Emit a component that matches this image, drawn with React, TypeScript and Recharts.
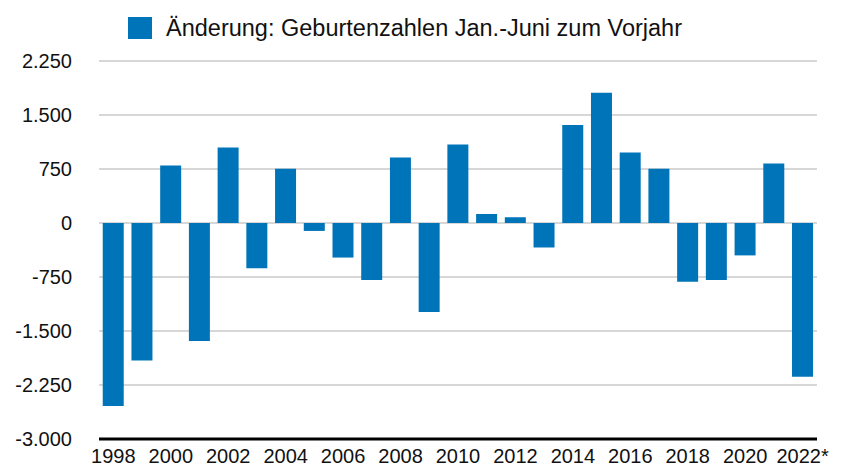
import { BarChart, Bar, CartesianGrid, XAxis, YAxis, Legend } from "recharts";

const years = [
  "1998", "1999", "2000", "2001", "2002", "2003", "2004", "2005", "2006",
  "2007", "2008", "2009", "2010", "2011", "2012", "2013", "2014", "2015",
  "2016", "2017", "2018", "2019", "2020", "2021", "2022*",
];

const changes = [
  -2540, -1910, 800, -1640, 1050, -630, 755, -110, -480, -790, 910, -1235,
  1090, 125, 80, -340, 1360, 1810, 980, 755, -815, -790, -450, 825, -2135,
];

const yTicks = [-3000, -2250, -1500, -750, 0, 750, 1500, 2250];

const seriesName = "Änderung: Geburtenzahlen Jan.-Juni zum Vorjahr";

const BLUE = "#0074b8";
const FONT = "'Liberation Sans', Arial, sans-serif";
const LEGEND_H = 24;

const data = years.map((year, i) => ({ year, value: changes[i] }));

function formatDE(value: number) {
  return value.toLocaleString("de-DE");
}

function LegendBox() {
  return (
    <div
      style={{
        display: "flex",
        alignItems: "center",
        height: LEGEND_H,
        marginLeft: 128,
        fontFamily: FONT,
        fontSize: 23.5,
        lineHeight: `${LEGEND_H}px`,
        color: "#111",
      }}
    >
      <span
        style={{
          display: "inline-block",
          width: 24,
          height: 22,
          background: BLUE,
          marginRight: 14,
        }}
      />
      <span>{seriesName}</span>
    </div>
  );
}

export default function App() {
  return (
    <div style={{ position: "absolute", left: 0, top: 0, background: "#fff" }}>
      <BarChart
        width={845}
        height={466}
        data={data}
        margin={{ top: 61 - LEGEND_H, right: 28, bottom: 0, left: 0 }}
        barCategoryGap="13%"
      >
        <CartesianGrid vertical={false} stroke="#cacaca" strokeWidth={1.5} />
        <XAxis
          dataKey="year"
          interval={1}
          height={27}
          tickLine={false}
          tickSize={0}
          tickMargin={10}
          axisLine={{ stroke: "#000", strokeWidth: 3 }}
          tick={{ fill: "#111", fontSize: 20, fontFamily: FONT }}
        />
        <YAxis
          domain={[-3000, 2250]}
          ticks={yTicks}
          width={99}
          axisLine={false}
          tickLine={false}
          tickSize={0}
          tickMargin={27}
          tickFormatter={(v) => formatDE(Number(v))}
          tick={{ fill: "#111", fontSize: 20, fontFamily: FONT }}
        />
        <Legend
          verticalAlign="top"
          align="left"
          content={() => <LegendBox />}
          wrapperStyle={{ top: 16, left: 0, width: 845 }}
        />
        <Bar
          dataKey="value"
          name={seriesName}
          fill={BLUE}
          isAnimationActive={false}
        />
      </BarChart>
    </div>
  );
}
